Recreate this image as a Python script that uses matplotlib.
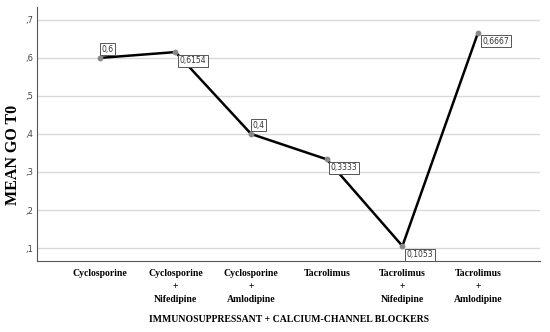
import matplotlib
matplotlib.use("Agg")
import matplotlib.pyplot as plt

categories = ["Cyclosporine", "Cyclosporine\n+\nNifedipine", "Cyclosporine\n+\nAmlodipine",
              "Tacrolimus", "Tacrolimus\n+\nNifedipine", "Tacrolimus\n+\nAmlodipine"]
values = [0.6, 0.6154, 0.4, 0.3333, 0.1053, 0.6667]
labels = ["0,6", "0,6154", "0,4", "0,3333", "0,1053", "0,6667"]
ytick_vals = [0.1, 0.2, 0.3, 0.4, 0.5, 0.6, 0.7]
ytick_labels = [",1", ",2", ",3", ",4", ",5", ",6", ",7"]
label_pos = ["above", "below", "above", "below", "below", "below"]

fig = plt.figure(figsize=(5.5, 3.32), dpi=100)
ax = fig.add_axes([0.0673, 0.214, 0.9147, 0.765])

x = list(range(len(categories)))
ax.plot(x, values, color="black", lw=1.8, zorder=3)
ax.scatter(x, values, s=10, color="#888888", zorder=4)

for xi, v, lab, pos in zip(x, values, labels, label_pos):
    if pos == "above":
        off = (1, 3); va = "bottom"
    else:
        off = (3, -3); va = "top"
    ax.annotate(lab, (xi, v), xytext=off, textcoords="offset points",
                ha="left", va=va, fontsize=5.5, color="#333333", family="DejaVu Sans",
                bbox=dict(boxstyle="square,pad=0.2", fc="white", ec="#555555", lw=0.7),
                zorder=5)

ax.set_xlim(-0.83, 5.82)
ax.set_ylim(0.066, 0.734)
ax.set_yticks(ytick_vals)
ax.set_yticklabels(ytick_labels, fontsize=6, color="#444444")
ax.set_xticks(x)
ax.set_xticklabels(categories, fontsize=7, fontweight="bold", family="Liberation Serif",
                   linespacing=1.55, va="top")
ax.tick_params(axis="x", length=0, pad=6)
ax.tick_params(axis="y", length=0, pad=3)
ax.yaxis.grid(True, color="#d9d9d9", lw=1)
ax.set_axisbelow(True)
for s in ["top", "right"]:
    ax.spines[s].set_visible(False)
for s in ["left", "bottom"]:
    ax.spines[s].set_color("#555555")
    ax.spines[s].set_linewidth(0.8)

ax.set_ylabel("MEAN GO T0", fontsize=11.5, fontweight="bold", family="Liberation Serif")
ax.yaxis.set_label_coords(-0.032, 0.417)
ax.set_xlabel("IMMUNOSUPPRESSANT + CALCIUM-CHANNEL BLOCKERS", fontsize=7,
              fontweight="bold", family="Liberation Serif", labelpad=8)

fig.savefig("out.png", dpi=100)
